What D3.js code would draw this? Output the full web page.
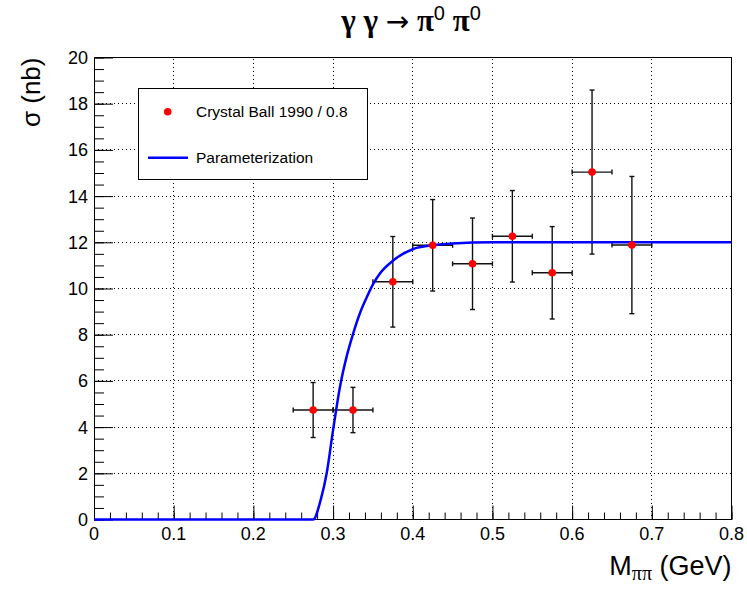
<!DOCTYPE html>
<html>
<head>
<meta charset="utf-8">
<script src="https://cdn.jsdelivr.net/npm/d3@7"></script>
<style>
html,body{margin:0;padding:0;background:#fff;}
svg{display:block;}
</style>
</head>
<body>
<script>
// ---- data ----
const dataX    = [0.275, 0.325, 0.375, 0.425, 0.475, 0.525, 0.575, 0.625, 0.675];
const dataY    = [4.74, 4.74, 10.29, 11.87, 11.07, 12.26, 10.68, 15.04, 11.88];
const dataErrX = [0.025, 0.025, 0.025, 0.025, 0.025, 0.025, 0.025, 0.025, 0.025];
const dataErrY = [1.19, 0.98, 1.96, 1.98, 1.98, 1.98, 2.0, 3.55, 2.97];

const curveX = [0, 0.275, 0.2844, 0.292, 0.300, 0.3087, 0.317, 0.3253, 0.3337, 0.342, 0.3504, 0.3588, 0.375, 0.4, 0.425, 0.45, 0.5, 0.6, 0.8];
const curveY = [0, 0, 0.84, 2.0, 3.87, 5.75, 7.05, 8.06, 8.93, 9.6, 10.2, 10.65, 11.2, 11.7, 11.87, 11.95, 12.0, 12.0, 12.0];

const xTicks = [0, 0.1, 0.2, 0.3, 0.4, 0.5, 0.6, 0.7, 0.8];
const yTicks = [0, 2, 4, 6, 8, 10, 12, 14, 16, 18, 20];
const legendLabels = ["Crystal Ball 1990 / 0.8", "Parameterization"];

// ---- layout ----
const W = 747, H = 591;
const L = 94, R = 731.5, T = 57.5, B = 519.5;
const sans = "'Liberation Sans', Arial, Helvetica, sans-serif";
const serif = "'Liberation Serif', 'Times New Roman', serif";

const svg = d3.select("body").append("svg").attr("width", W).attr("height", H);
const x = d3.scaleLinear().domain([0, 0.8]).range([L, R]);
const y = d3.scaleLinear().domain([0, 20]).range([B, T]);

// grid
const grid = svg.append("g").attr("stroke", "#000").attr("stroke-width", 1)
  .attr("stroke-dasharray", "1,3").attr("shape-rendering", "crispEdges");
xTicks.slice(1, -1).forEach(v => grid.append("line")
  .attr("x1", x(v)).attr("x2", x(v)).attr("y1", B).attr("y2", T));
yTicks.slice(1, -1).forEach(v => grid.append("line")
  .attr("x1", L).attr("x2", R).attr("y1", y(v)).attr("y2", y(v)));

// frame
svg.append("rect").attr("x", L).attr("y", T).attr("width", R - L).attr("height", B - T)
  .attr("fill", "none").attr("stroke", "#000").attr("stroke-width", 1).attr("shape-rendering", "crispEdges");

// axes (ticks inside)
const xAxis = d3.axisTop(x).tickValues(xTicks).tickSize(14).tickFormat("");
const xMinor = d3.axisTop(x).tickValues(d3.range(0, 0.8001, 0.02)).tickSize(7).tickFormat("");
const yAxis = d3.axisRight(y).tickValues(yTicks).tickSize(19).tickFormat("");
const yMinor = d3.axisRight(y).tickValues(d3.range(0, 20.001, 0.5)).tickSize(10).tickFormat("");
[[xAxis, `translate(0,${B})`], [xMinor, `translate(0,${B})`], [yAxis, `translate(${L},0)`], [yMinor, `translate(${L},0)`]]
  .forEach(([ax, tr]) => {
    const g = svg.append("g").attr("transform", tr).call(ax);
    g.select(".domain").remove();
    g.selectAll("line").attr("stroke", "#000").attr("stroke-width", 1);
  });

// tick labels
svg.append("g").selectAll("text").data(xTicks).join("text")
  .attr("x", d => x(d)).attr("y", 540).attr("text-anchor", "middle")
  .attr("font-family", sans).attr("font-size", 18).attr("fill", "#000")
  .text(d => d === 0 ? "0" : d3.format(".1f")(d));
svg.append("g").selectAll("text").data(yTicks).join("text")
  .attr("x", 88).attr("y", d => y(d) + 6.5).attr("text-anchor", "end")
  .attr("font-family", sans).attr("font-size", 18).attr("fill", "#000")
  .text(d => d);

// error bars
const pts = dataX.map((v, i) => ({x: v, y: dataY[i], ex: dataErrX[i], ey: dataErrY[i]}));
const eb = svg.append("g").attr("stroke", "#111").attr("stroke-width", 1.4);
pts.forEach(p => {
  eb.append("line").attr("x1", x(p.x - p.ex)).attr("x2", x(p.x + p.ex)).attr("y1", y(p.y)).attr("y2", y(p.y));
  eb.append("line").attr("x1", x(p.x)).attr("x2", x(p.x)).attr("y1", y(p.y - p.ey)).attr("y2", y(p.y + p.ey));
  [p.x - p.ex, p.x + p.ex].forEach(v => eb.append("line").attr("x1", x(v)).attr("x2", x(v)).attr("y1", y(p.y) - 2.5).attr("y2", y(p.y) + 2.5));
  [p.y - p.ey, p.y + p.ey].forEach(v => eb.append("line").attr("x1", x(p.x) - 2.5).attr("x2", x(p.x) + 2.5).attr("y1", y(v)).attr("y2", y(v)));
});

// curve
const line = d3.line().x(d => x(d[0])).y(d => y(d[1])).curve(d3.curveMonotoneX);
svg.append("path").datum(curveX.map((v, i) => [v, curveY[i]])).attr("d", line)
  .attr("fill", "none").attr("stroke", "#0000ff").attr("stroke-width", 2.5);

// markers
svg.append("g").selectAll("circle").data(pts).join("circle")
  .attr("cx", d => x(d.x)).attr("cy", d => y(d.y)).attr("r", 3.8).attr("fill", "#ff0000");

// legend
const lg = svg.append("g");
lg.append("rect").attr("x", 138.5).attr("y", 88.5).attr("width", 229).attr("height", 91)
  .attr("fill", "#fff").attr("stroke", "#000").attr("stroke-width", 1).attr("shape-rendering", "crispEdges");
lg.append("circle").attr("cx", 167.7).attr("cy", 111.7).attr("r", 3.8).attr("fill", "#ff0000");
lg.append("line").attr("x1", 148).attr("x2", 188).attr("y1", 157.7).attr("y2", 157.7)
  .attr("stroke", "#0000ff").attr("stroke-width", 2.5);
lg.append("text").attr("x", 196).attr("y", 117).attr("font-family", sans).attr("font-size", 15.5).text(legendLabels[0]);
lg.append("text").attr("x", 196).attr("y", 163).attr("font-family", sans).attr("font-size", 15.5).text(legendLabels[1]);

// title
const title = svg.append("text").attr("x", 411).attr("y", 31).attr("text-anchor", "middle")
  .attr("font-family", serif).attr("font-weight", "bold").attr("font-size", 31).attr("fill", "#000");
title.append("tspan").text("γ γ ");
title.append("tspan").attr("font-family", "'DejaVu Sans', sans-serif").attr("font-weight", "normal").attr("font-size", 28).text("→");
title.append("tspan").text(" π");
title.append("tspan").attr("font-family", sans).attr("font-weight", "normal").attr("font-size", 20).attr("dy", -11).text("0");
title.append("tspan").attr("dy", 11).text(" π");
title.append("tspan").attr("font-family", sans).attr("font-weight", "normal").attr("font-size", 20).attr("dy", -11).text("0");

// x title
const xt = svg.append("text").attr("x", R).attr("y", 575).attr("text-anchor", "end")
  .attr("font-family", sans).attr("font-size", 27).attr("fill", "#000");
xt.append("tspan").text("M");
xt.append("tspan").attr("font-family", serif).attr("font-size", 20).attr("dy", 5).text("ππ");
xt.append("tspan").attr("dy", -5).text(" (GeV)");

// y title
svg.append("text").attr("transform", `translate(40,${T}) rotate(-90)`).attr("text-anchor", "end")
  .attr("font-family", sans).attr("font-size", 26).attr("fill", "#000").text("σ (nb)");
</script>
</body>
</html>
